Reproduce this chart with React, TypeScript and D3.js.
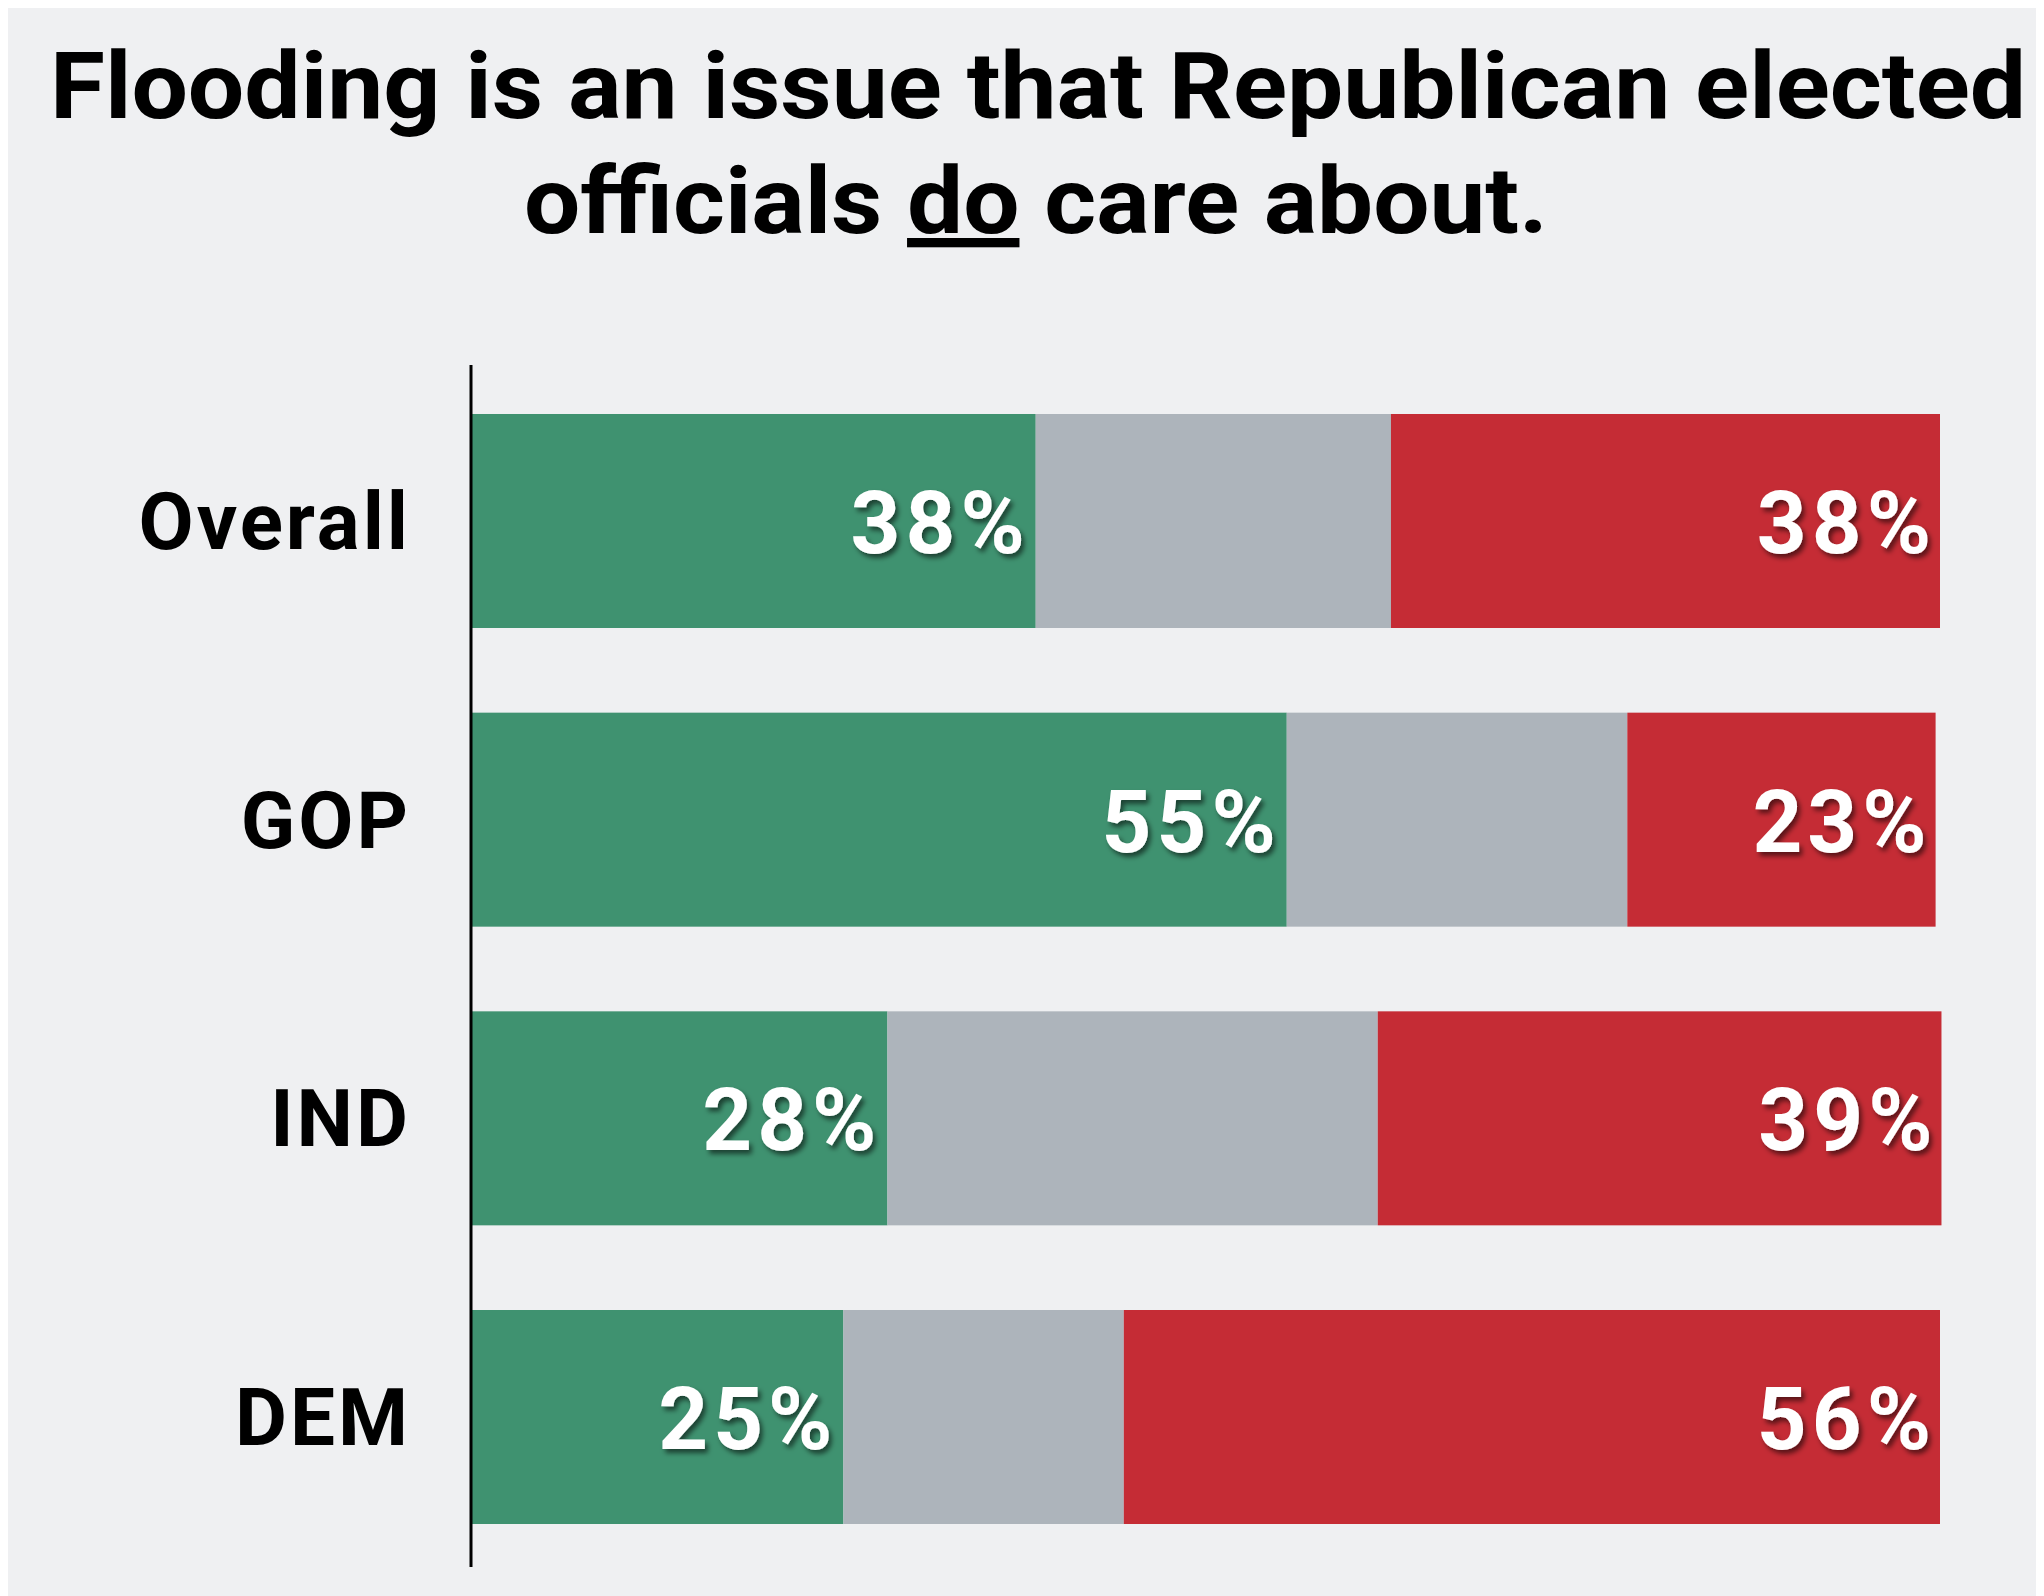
import React from 'react';
import * as d3 from 'd3';

const categories = ['Overall', 'GOP', 'IND', 'DEM'];
// shares (percent of the full bar)
const doCare = [38.4, 55.5, 28.3, 25.3];
const notSure = [24.2, 23.2, 33.4, 19.1];
const doNotCare = [37.4, 21.0, 38.4, 55.6];
// printed labels
const doCareLabels = ['38%', '55%', '28%', '25%'];
const doNotCareLabels = ['38%', '23%', '39%', '56%'];

const keys = ['doCare', 'notSure', 'doNotCare'] as const;
const colors: Record<string, string> = {
  doCare: '#3f9270',
  notSure: '#adb4bb',
  doNotCare: '#c52c35',
};

const W = 2036;
const H = 1588;
const FONT = 'Roboto, "Noto Sans", sans-serif';

const App: React.FC = () => {
  const rows = categories.map((c, i) => ({
    category: c,
    doCare: doCare[i],
    notSure: notSure[i],
    doNotCare: doNotCare[i],
  }));

  const x = d3.scaleLinear().domain([0, 100]).range([464, 1932]);
  const y = d3
    .scaleBand<string>()
    .domain(categories)
    .range([360, 1562])
    .paddingInner(0.2835)
    .paddingOuter(0.154);

  const series = d3.stack<any>().keys(keys as unknown as string[])(rows);
  const bw = y.bandwidth();

  const valueSpacing = 5;
  const catSpacing = 3;

  return (
    <svg width={W} height={H} viewBox={`0 0 ${W} ${H}`} style={{ display: 'block' }}>
      <defs>
        <filter id="shadow" x="-20%" y="-20%" width="140%" height="150%">
          <feDropShadow dx="3" dy="4" stdDeviation="2.5" floodColor="#000" floodOpacity="0.55" />
        </filter>
      </defs>
      <rect width={W} height={H} fill="#eff0f2" />

      {/* title */}
      <g fontFamily={FONT} fontWeight={700} fill="#000" textAnchor="middle">
        <text x={1030} y={110} fontSize={93} textLength={1976} lengthAdjust="spacingAndGlyphs">
          Flooding is an issue that Republican elected
        </text>
        <text x={1028} y={225} fontSize={93} textLength={1024} lengthAdjust="spacingAndGlyphs">
          officials <tspan style={{ textDecoration: 'underline' }}>do</tspan> care about.
        </text>
      </g>

      {/* bars */}
      {series.map((s) => (
        <g key={s.key} fill={colors[s.key]}>
          {s.map((d, i) => (
            <rect
              key={i}
              x={x(d[0])}
              y={y(categories[i])}
              width={x(d[1]) - x(d[0])}
              height={bw}
            />
          ))}
        </g>
      ))}

      {/* axis line */}
      <line
        x1={x(0) - 1}
        x2={x(0) - 1}
        y1={y.range()[0] - 3}
        y2={y.range()[1] - 3}
        stroke="#000"
        strokeWidth={3}
      />

      {/* category labels */}
      <g
        fontFamily={FONT}
        fontWeight={700}
        fontSize={80}
        textAnchor="end"
        fill="#000"
        letterSpacing={catSpacing}
      >
        {categories.map((c) => (
          <text key={c} x={x(0) - 64 + catSpacing} y={(y(c) as number) + bw / 2 + 28}>
            {c}
          </text>
        ))}
      </g>

      {/* value labels */}
      <g
        fontFamily={FONT}
        fontWeight={700}
        fontSize={87}
        textAnchor="end"
        fill="#fff"
        letterSpacing={valueSpacing}
        filter="url(#shadow)"
      >
        {series[0].map((d, i) => (
          <text
            key={`g${i}`}
            x={x(d[1]) - 11 + valueSpacing}
            y={(y(categories[i]) as number) + bw / 2 + 32}
          >
            {doCareLabels[i]}
          </text>
        ))}
        {series[2].map((d, i) => (
          <text
            key={`r${i}`}
            x={x(d[1]) - 9 + valueSpacing}
            y={(y(categories[i]) as number) + bw / 2 + 32}
          >
            {doNotCareLabels[i]}
          </text>
        ))}
      </g>
    </svg>
  );
};

export default App;
